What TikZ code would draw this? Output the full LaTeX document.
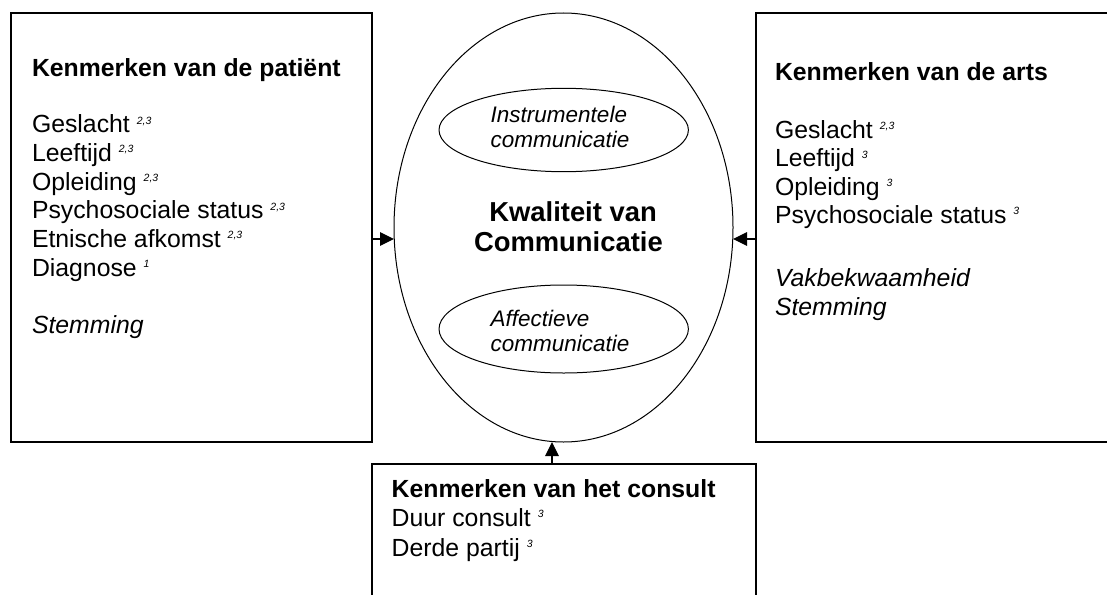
\documentclass[tikz,border=0pt]{standalone}
\usepackage{fontspec}
\setmainfont{Liberation Sans}
\usetikzlibrary{shapes.geometric,arrows.meta}
% small italic reference marks after an item
\newcommand{\supnote}[1]{\raisebox{8.7pt}{\fontsize{10.5}{12}\selectfont\itshape #1}}

\begin{document}
\begin{tikzpicture}[x=1pt,y=-1pt,
  frame/.style={draw, line width=1.4pt, inner sep=0pt, outer sep=0pt},
  oval/.style={draw, ellipse, line width=1pt, inner sep=0pt, outer sep=0pt},
  txt/.style={anchor=base west, inner sep=0pt, outer sep=0pt, font=\fontsize{24.8}{28.7}\selectfont},
  head/.style={txt, font=\fontsize{24.8}{28.7}\selectfont\bfseries},
  emph/.style={txt, font=\fontsize{24.8}{28.7}\selectfont\itshape},
  sub/.style={txt, font=\fontsize{22.5}{25}\selectfont\itshape},
  core/.style={txt, font=\fontsize{27.4}{30}\selectfont\bfseries},
  arr/.style={line width=1.2pt, -{Triangle[length=14pt,width=13.5pt]}}]

\clip (0,0) rectangle (1107,594);

% the three boxes of factors
\node[frame, minimum width=361pt, minimum height=429pt] (patient) at (191.5,227.5) {};
\node[frame, minimum width=369pt, minimum height=429pt] (doctor) at (940.5,227.5) {};
\node[frame, minimum width=384pt, minimum height=156pt] (consult) at (564,542) {};

% central quality ellipse with its two components
\node[oval, minimum width=339pt, minimum height=429pt] (quality) at (563.5,227.5) {};
\node[oval, minimum width=249.4pt, minimum height=83.4pt] (instr) at (563.7,130) {};
\node[oval, minimum width=249.4pt, minimum height=88pt] (affect) at (563.7,329) {};

% patient characteristics
\node[head] (ph) at (32,76.7) {Kenmerken van de patiënt};
\node[txt] (p1) at (32,132.7) {Geslacht \supnote{2,3}};
\node[txt] (p2) at (32,161.4) {Leeftijd \supnote{2,3}};
\node[txt] (p3) at (32,190.1) {Opleiding \supnote{2,3}};
\node[txt] (p4) at (32,218.8) {Psychosociale status \supnote{2,3}};
\node[txt] (p5) at (32,247.5) {Etnische afkomst \supnote{2,3}};
\node[txt] (p6) at (32,276.2) {Diagnose \supnote{1}};
\node[emph] (p7) at (32,333) {Stemming};

% doctor characteristics
\node[head] (dh) at (775,80) {Kenmerken van de arts};
\node[txt] (d1) at (775,138.3) {Geslacht \supnote{2,3}};
\node[txt] (d2) at (775,166.7) {Leeftijd \supnote{3}};
\node[txt] (d3) at (775,195.1) {Opleiding \supnote{3}};
\node[txt] (d4) at (775,223.5) {Psychosociale status \supnote{3}};
\node[emph] (d5) at (775,286.7) {Vakbekwaamheid};
\node[emph] (d6) at (775,315) {Stemming};

% consultation characteristics
\node[head] (ch) at (391.7,497) {Kenmerken van het consult};
\node[txt] (c1) at (391.7,526.5) {Duur consult \supnote{3}};
\node[txt] (c2) at (391.7,556) {Derde partij \supnote{3}};

% labels inside the ellipses
\node[core] (q1) at (489.3,221.7) {Kwaliteit van};
\node[core] (q2) at (474,251.7) {Communicatie};
\node[sub] (i1) at (490.7,122.5) {Instrumentele};
\node[sub] (i2) at (490.7,147) {communicatie};
\node[sub] (a1) at (490.7,326) {Affectieve};
\node[sub] (a2) at (490.7,351.5) {communicatie};

% influences on the quality of communication
\draw[arr] ([yshift=-11.5pt]patient.east) -- ([yshift=-11.5pt]quality.west);
\draw[arr] ([yshift=-11.5pt]doctor.west) -- ([yshift=-11.5pt]quality.east);
\draw[arr] ([xshift=-12pt]consult.north) -- ([xshift=-11.5pt]quality.south);
\end{tikzpicture}
\end{document}
